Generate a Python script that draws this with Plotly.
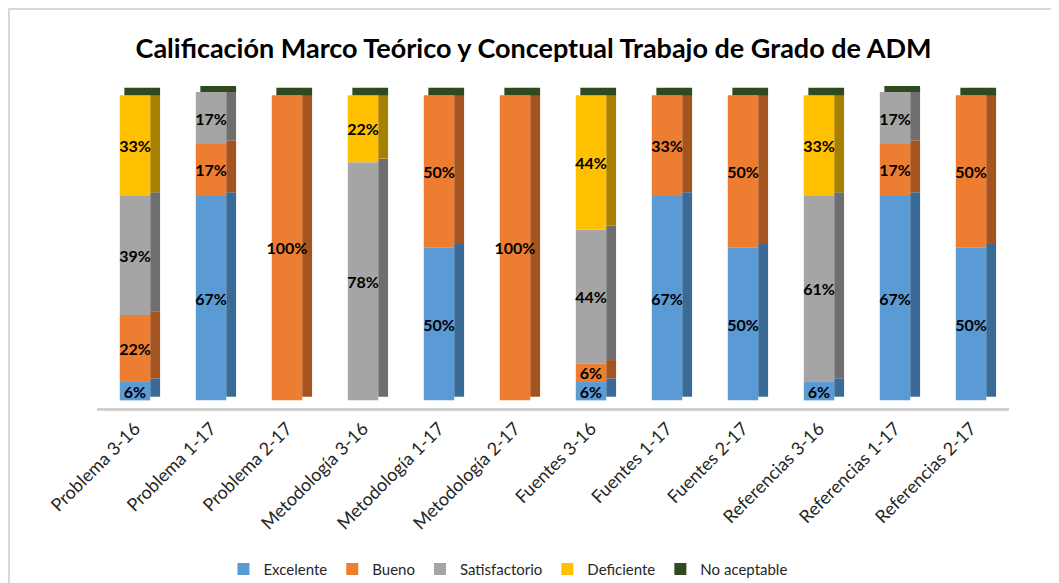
"""
Calificación Marco Teórico y Conceptual - columnas apiladas con efecto 3D
"""

import plotly.graph_objects as go

categorias = ['Problema 3-16', 'Problema 1-17', 'Problema 2-17',
              'Metodología 3-16', 'Metodología 1-17', 'Metodología 2-17',
              'Fuentes 3-16', 'Fuentes 1-17', 'Fuentes 2-17',
              'Referencias 3-16', 'Referencias 1-17', 'Referencias 2-17']

excelente = [6, 67, 0, 0, 50, 0, 6, 67, 50, 6, 67, 50]
bueno = [22, 17, 100, 0, 50, 100, 6, 33, 50, 0, 17, 50]
satisfactorio = [39, 17, 0, 78, 0, 0, 44, 0, 0, 61, 17, 0]
deficiente = [33, 0, 0, 22, 0, 0, 44, 0, 0, 33, 0, 0]
no_aceptable = [0, 0, 0, 0, 0, 0, 0, 0, 0, 0, 0, 0]

series = [
    ('Excelente', excelente, '#5B9BD5', '#3A6A96'),
    ('Bueno', bueno, '#ED7D31', '#A5531F'),
    ('Satisfactorio', satisfactorio, '#A5A5A5', '#6E6E6E'),
    ('Deficiente', deficiente, '#FFC000', '#A88000'),
]

FONT = 'Lato'
DEPTH = 2.4  # profundidad del efecto 3D (en % del eje)

fig = go.Figure()

base = [0] * len(categorias)
for nombre, valores, color, lado in series:
    # cara lateral
    fig.add_trace(go.Bar(
        x=categorias, y=valores, base=[b + DEPTH / 2 for b in base],
        offset=0.2, width=0.13, marker=dict(color=lado, line_width=0),
        showlegend=False, hoverinfo='skip'
    ))
    # cara frontal
    fig.add_trace(go.Bar(
        x=categorias, y=valores, base=base, name=nombre,
        offset=-0.2, width=0.4, marker=dict(color=color, line_width=0),
        text=[f'{v}%' if v > 0 else '' for v in valores],
        textposition='inside', insidetextanchor='middle',
        constraintext='none', textangle=0,
        textfont=dict(family=FONT, size=16, color='black', weight='bold'),
        hovertemplate='<b>%{x}</b><br>' + nombre + ': %{y}%<extra></extra>'
    ))
    base = [b + v for b, v in zip(base, valores)]

# tapa superior (serie "No aceptable", valor 0)
fig.add_trace(go.Bar(
    x=categorias, y=[DEPTH + v for v in no_aceptable], base=base,
    name='No aceptable', offset=-0.14, width=0.47,
    marker=dict(color='#2F4A1E', line_width=0), hoverinfo='skip'
))

fig.update_layout(
    barmode='overlay',
    title=dict(
        text='<b>Calificación Marco Teórico y Conceptual Trabajo de Grado de ADM</b>',
        x=0.5, xanchor='center', y=0.930, yanchor='middle',
        font=dict(family=FONT, size=27, color='black')
    ),
    width=1051, height=575,
    margin=dict(l=89, r=50, t=78, b=175),
    plot_bgcolor='white', paper_bgcolor='white',
    font=dict(family=FONT, size=15, color='black'),
    xaxis=dict(
        tickangle=-45, tickfont=dict(family=FONT, size=18, color='#262626'),
        showline=True, linecolor='#D0D0D0', linewidth=3,
        showgrid=False, ticks=''
    ),
    yaxis=dict(range=[-2.5, 103], showticklabels=False, showgrid=False,
               zeroline=False, showline=False),
    legend=dict(
        orientation='h', xref='container', yref='container',
        x=0.205, xanchor='left', y=0.024, yanchor='middle',
        font=dict(family=FONT, size=15, color='#262626'),
        itemwidth=30, traceorder='normal'
    ),
    shapes=[dict(
        type='rect', xref='paper', yref='paper',
        x0=-0.0965, x1=1.06, y0=-0.56, y1=1.239,
        line=dict(color='#D9D9D9', width=2)
    )]
)

fig.write_html("out.html")
